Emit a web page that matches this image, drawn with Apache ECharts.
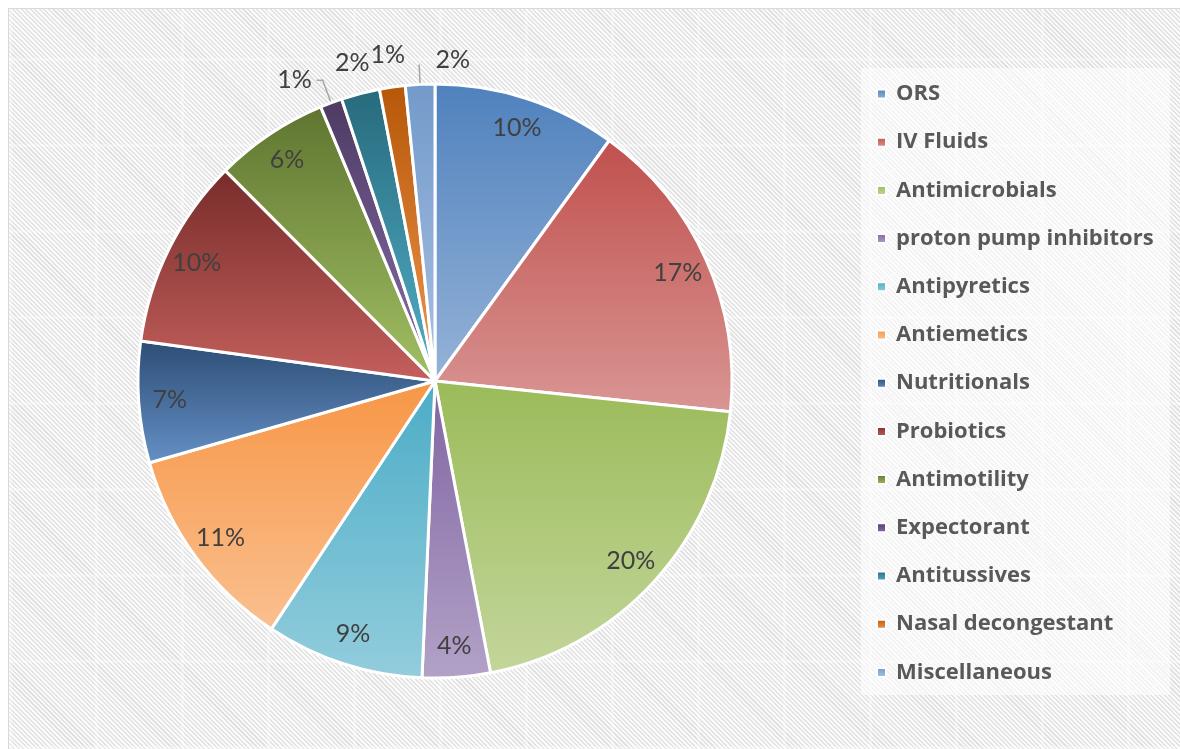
<!DOCTYPE html>
<html>
<head>
<meta charset="utf-8">
<script src="https://cdn.jsdelivr.net/npm/echarts@6/dist/echarts.min.js"></script>
<style>
  html, body { margin: 0; padding: 0; background: #fff; }
  .frame {
    position: absolute;
    left: 8px; top: 8px; right: 0; bottom: 0;
    border-left: 1px solid #d9d9d9;
    border-top: 1px solid #d9d9d9;
    background:
      repeating-linear-gradient(90deg, rgba(255,255,255,0.3) 0 3px, rgba(255,255,255,0) 3px 86px),
      repeating-linear-gradient(0deg, rgba(255,255,255,0.3) 0 3px, rgba(255,255,255,0) 3px 86px),
      repeating-linear-gradient(45deg, #e2e2e2 0 1.5px, #fbfbfb 1.5px 3.2px);
  }
  #main { position: absolute; left: 0; top: 0; width: 1180px; height: 749px; }
</style>
</head>
<body>
<div class="frame"></div>
<div id="main"></div>
<script>
  // categories and shares (%)
  const categories = [
    'ORS', 'IV Fluids', 'Antimicrobials', 'proton pump inhibitors', 'Antipyretics',
    'Antiemetics', 'Nutritionals', 'Probiotics', 'Antimotility', 'Expectorant',
    'Antitussives', 'Nasal decongestant', 'Miscellaneous'
  ]
  const shares = [10.0, 16.7, 20.4, 3.7, 8.6, 11.3, 6.6, 10.4, 6.2, 1.2, 2.1, 1.4, 1.6]

  // excel-like gradient fills: top colour -> bottom colour
  const topColors = ['#4F81BD', '#C0504D', '#9BBB59', '#8064A2', '#4BACC6', '#F79646',
    '#2C4D75', '#772C2A', '#5F7530', '#4D3B62', '#276A7C', '#B65708', '#729ACA']
  const bottomColors = ['#95B3D7', '#D99694', '#C3D69B', '#B2A2C7', '#93CDDD', '#FAC090',
    '#6690C6', '#C4605D', '#A2C064', '#8A6FAE', '#52B0C9', '#F0974F', '#A9C1E3']

  const smallLimit = 3 // slices under this get their label outside the pie
  const leaderNames = ['Expectorant', 'Miscellaneous'] // outside labels with a leader line

  const labelFont = { fontFamily: 'Lato', fontSize: 25, color: '#404040' }
  const pct = (p) => Math.round(p.percent) + '%'

  const chart = echarts.init(document.getElementById('main'))

  const mainData = categories.map((name, i) => ({
    name,
    value: shares[i],
    itemStyle: {
      color: new echarts.graphic.LinearGradient(0, 0, 0, 1, [
        { offset: 0, color: topColors[i] },
        { offset: 1, color: bottomColors[i] }
      ])
    },
    label: name === 'Miscellaneous'
      ? { show: true, offset: [56, -4] }
      : { show: leaderNames.includes(name) },
    labelLine: name === 'Miscellaneous' ? { length: 20, length2: 0 } : { length: 24, length2: 6 }
  }))

  // transparent rings only used to place labels
  const innerLabelData = categories.map((name, i) => ({
    name,
    value: shares[i],
    label: { show: shares[i] >= smallLimit }
  }))
  const outerLabelData = categories.map((name, i) => ({
    name,
    value: shares[i],
    label: { show: shares[i] < smallLimit && !leaderNames.includes(name) }
  }))

  const labelRing = (name, radius, data) => ({
    name,
    type: 'pie',
    center: [435, 381],
    radius,
    startAngle: 90,
    clockwise: true,
    silent: true,
    legendHoverLink: false,
    itemStyle: { color: 'rgba(0,0,0,0)', borderWidth: 0 },
    label: { position: 'inside', formatter: pct, ...labelFont },
    labelLine: { show: false },
    labelLayout: { hideOverlap: false },
    data
  })

  chart.setOption({
    animation: false,
    backgroundColor: 'transparent',
    graphic: [
      {
        type: 'rect',
        z: -1,
        shape: { x: 861, y: 68, width: 309, height: 627 },
        style: { fill: 'rgba(255,255,255,0.6)' }
      }
    ],
    legend: {
      orient: 'vertical',
      left: 871,
      top: 78,
      data: categories,
      icon: 'rect',
      itemWidth: 9,
      itemHeight: 9,
      itemGap: 26.2,
      selectedMode: false,
      textStyle: {
        fontFamily: 'Open Sans',
        fontSize: 22,
        fontWeight: 'bold',
        color: '#595959',
        lineHeight: 22,
        padding: [0, 0, 0, 5]
      }
    },
    series: [
      {
        name: 'share',
        type: 'pie',
        center: [435, 381],
        radius: 297,
        startAngle: 90,
        clockwise: true,
        avoidLabelOverlap: false,
        silent: true,
        itemStyle: { borderColor: '#fff', borderWidth: 3 },
        label: { position: 'outside', formatter: pct, ...labelFont },
        labelLine: {
          smooth: false,
          lineStyle: { color: '#a6a6a6', width: 1.5 }
        },
        labelLayout: { hideOverlap: false },
        data: mainData
      },
      labelRing('inner labels', [230, 296], innerLabelData),
      labelRing('outer labels', [310, 342], outerLabelData)
    ]
  })
</script>
</body>
</html>
